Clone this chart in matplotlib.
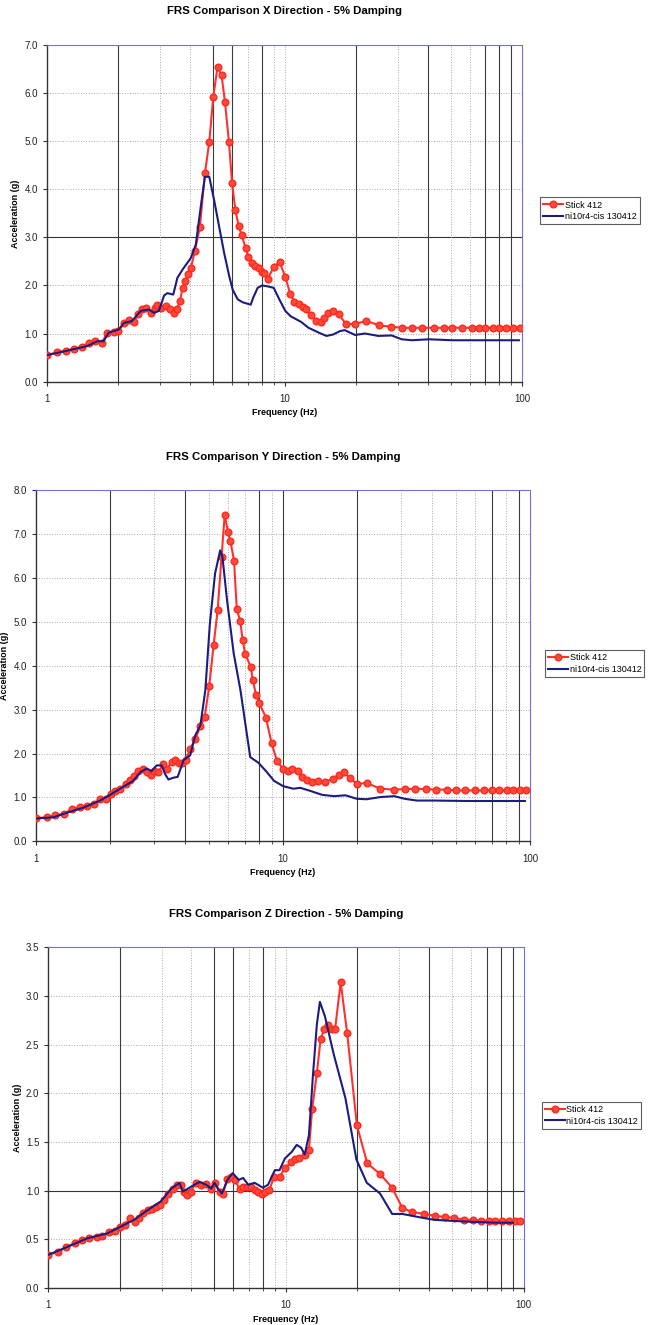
import numpy as np
import matplotlib.pyplot as plt
from matplotlib.ticker import FixedLocator, NullFormatter, FormatStrFormatter

plt.rcParams['font.family'] = ['Liberation Sans', 'DejaVu Sans']

# ---- X direction ----
x_stick_f = [1.0, 1.10, 1.20, 1.30, 1.41, 1.50, 1.60, 1.71, 1.79, 1.91, 2.0, 2.11, 2.21, 2.32,
             2.42, 2.52, 2.62, 2.73, 2.84, 2.91, 3.01, 3.18, 3.28, 3.41, 3.51, 3.63, 3.72, 3.82,
             3.93, 4.03, 4.19, 4.40, 4.62, 4.82, 5.01, 5.22, 5.43, 5.61, 5.83, 6.01, 6.21, 6.41,
             6.60, 6.85, 7.04, 7.29, 7.53, 7.77, 8.04, 8.22, 8.49, 9.0, 9.52, 10.07, 10.55, 11.0,
             11.5, 11.95, 12.3, 12.96, 13.6, 14.2, 14.7, 15.2, 16.0, 16.9, 18.1, 19.8, 22.1, 25.0,
             28.1, 31.1, 34.3, 38.0, 42.4, 46.7, 50.6, 55.7, 61.5, 65.6, 70.0, 75.1, 80.2, 85.5,
             91.2, 97.4]
x_stick_a = [0.55, 0.61, 0.64, 0.68, 0.73, 0.81, 0.84, 0.81, 1.02, 1.04, 1.05, 1.21, 1.28, 1.25,
             1.40, 1.50, 1.53, 1.43, 1.53, 1.60, 1.53, 1.57, 1.50, 1.42, 1.50, 1.67, 1.95, 2.09,
             2.23, 2.36, 2.71, 3.21, 4.33, 4.99, 5.92, 6.54, 6.37, 5.82, 4.99, 4.14, 3.56, 3.23,
             3.05, 2.78, 2.59, 2.47, 2.40, 2.36, 2.29, 2.26, 2.14, 2.38, 2.49, 2.18, 1.83, 1.66,
             1.62, 1.55, 1.50, 1.38, 1.26, 1.24, 1.33, 1.42, 1.47, 1.40, 1.20, 1.20, 1.26, 1.17,
             1.14, 1.12, 1.12, 1.12, 1.12, 1.12, 1.12, 1.12, 1.12, 1.12, 1.12, 1.12, 1.12, 1.12,
             1.12, 1.12]
x_cis_f = [1.0, 1.21, 1.48, 1.63, 1.73, 1.82, 2.0, 2.11, 2.28, 2.48, 2.69, 2.82, 2.96, 3.11, 3.21,
           3.4, 3.54, 3.72, 4.03, 4.23, 4.45, 4.62, 4.82, 5.05, 5.3, 5.57, 5.85, 6.05, 6.35, 6.66,
           7.2, 7.37, 7.7, 8.05, 8.5, 9.0, 9.5, 10.07, 10.6, 11.75, 12.6, 13.9, 15.0, 16.0, 17.1,
           17.9, 19.8, 21.8, 24.8, 28.2, 31.1, 34.3, 40.5, 50.6, 63.5, 82.7, 96.8]
x_cis_a = [0.55, 0.64, 0.74, 0.84, 0.84, 1.02, 1.08, 1.22, 1.26, 1.47, 1.50, 1.43, 1.47, 1.79, 1.84,
           1.81, 2.16, 2.33, 2.57, 2.85, 3.68, 4.26, 4.26, 3.78, 3.23, 2.67, 2.19, 1.91, 1.71, 1.65,
           1.60, 1.74, 1.95, 2.00, 1.98, 1.95, 1.71, 1.47, 1.36, 1.24, 1.12, 1.02, 0.95, 0.98, 1.05,
           1.07, 0.97, 1.00, 0.95, 0.96, 0.88, 0.86, 0.88, 0.86, 0.86, 0.86, 0.86]

# ---- Y direction ----
y_stick_f = [1.0, 1.105, 1.20, 1.30, 1.40, 1.51, 1.61, 1.72, 1.82, 1.92, 2.01, 2.10, 2.20, 2.31,
             2.40, 2.50, 2.60, 2.71, 2.81, 2.92, 3.01, 3.13, 3.28, 3.40, 3.55, 3.66, 3.79, 3.92,
             4.04, 4.21, 4.42, 4.63, 4.82, 5.03, 5.24, 5.44, 5.64, 5.81, 5.99, 6.13, 6.34, 6.50,
             6.72, 6.87, 7.03, 7.41, 7.55, 7.79, 8.02, 8.53, 9.0, 9.46, 10.0, 10.45, 10.9, 11.5,
             11.9, 12.5, 13.1, 13.9, 14.8, 15.9, 16.9, 17.7, 18.6, 19.9, 21.8, 24.8, 28.1, 31.1,
             34.2, 37.9, 41.6, 45.9, 50.0, 54.7, 60.0, 64.8, 70.0, 75.2, 80.4, 85.4, 90.9, 96.2]
y_stick_a = [0.53, 0.55, 0.59, 0.63, 0.74, 0.78, 0.80, 0.86, 0.97, 0.96, 1.09, 1.14, 1.20, 1.31,
             1.39, 1.48, 1.60, 1.66, 1.58, 1.52, 1.60, 1.58, 1.76, 1.66, 1.81, 1.86, 1.79, 1.79,
             1.85, 2.11, 2.33, 2.62, 2.83, 3.54, 4.47, 5.27, 6.47, 7.43, 7.05, 6.84, 6.39, 5.30,
             5.01, 4.58, 4.28, 3.97, 3.67, 3.33, 3.15, 2.82, 2.23, 1.83, 1.66, 1.60, 1.64, 1.60,
             1.47, 1.39, 1.35, 1.37, 1.35, 1.43, 1.52, 1.57, 1.45, 1.31, 1.33, 1.20, 1.18, 1.19,
             1.20, 1.19, 1.18, 1.18, 1.16, 1.16, 1.16, 1.16, 1.16, 1.16, 1.16, 1.16, 1.16, 1.16]
y_cis_f = [1.0, 1.18, 1.33, 1.56, 1.82, 2.01, 2.19, 2.48, 2.65, 2.81, 2.94, 3.08, 3.23, 3.33, 3.44,
           3.60, 3.75, 3.96, 4.21, 4.42, 4.63, 4.85, 5.06, 5.31, 5.57, 5.69, 5.94, 6.32, 6.73, 7.37,
           7.96, 8.6, 9.2, 10.0, 11.0, 11.76, 12.9, 14.4, 16.1, 17.9, 19.9, 21.8, 24.8, 28.2, 31.1,
           34.8, 41.0, 55.5, 75.0, 95.3]
y_cis_a = [0.52, 0.55, 0.65, 0.77, 0.93, 1.07, 1.20, 1.38, 1.58, 1.66, 1.60, 1.73, 1.73, 1.54, 1.41,
           1.45, 1.47, 1.85, 1.96, 2.42, 2.64, 3.44, 4.96, 6.10, 6.63, 6.48, 5.49, 4.28, 3.44, 1.92,
           1.79, 1.58, 1.38, 1.26, 1.20, 1.22, 1.15, 1.06, 1.03, 1.05, 0.97, 0.96, 1.01, 1.03, 0.97,
           0.93, 0.93, 0.92, 0.92, 0.92]

# ---- Z direction ----
z_stick_f = [1.0, 1.10, 1.19, 1.29, 1.39, 1.49, 1.60, 1.69, 1.80, 1.91, 2.01, 2.10, 2.21, 2.31,
             2.42, 2.51, 2.62, 2.73, 2.84, 2.95, 3.08, 3.20, 3.34, 3.49, 3.62, 3.74, 3.84, 3.97,
             4.19, 4.40, 4.62, 4.82, 5.01, 5.26, 5.44, 5.67, 5.89, 6.10, 6.38, 6.61, 6.86, 7.11,
             7.43, 7.66, 7.91, 8.19, 8.53, 8.9, 9.4, 9.9, 10.5, 10.9, 11.4, 12.0, 12.5, 12.9, 13.5,
             14.0, 14.5, 15.0, 15.6, 16.1, 17.0, 18.1, 19.9, 22.0, 24.9, 28.0, 30.9, 34.0, 38.2,
             42.4, 46.7, 51.1, 56.2, 61.3, 66.4, 71.4, 76.1, 81.2, 86.6, 91.8, 97.0]
z_stick_a = [0.34, 0.37, 0.42, 0.46, 0.49, 0.51, 0.52, 0.53, 0.57, 0.58, 0.63, 0.65, 0.72, 0.68,
             0.72, 0.77, 0.80, 0.81, 0.83, 0.85, 0.90, 0.96, 1.02, 1.06, 1.06, 0.99, 0.95, 0.99,
             1.08, 1.06, 1.07, 1.02, 1.08, 0.99, 0.97, 1.12, 1.14, 1.11, 1.02, 1.04, 1.04, 1.04,
             1.01, 0.99, 0.97, 0.99, 1.01, 1.14, 1.14, 1.23, 1.29, 1.33, 1.34, 1.37, 1.42, 1.84,
             2.21, 2.56, 2.66, 2.70, 2.66, 2.66, 3.14, 2.62, 1.67, 1.28, 1.17, 1.03, 0.82, 0.78,
             0.76, 0.74, 0.73, 0.72, 0.70, 0.70, 0.69, 0.69, 0.69, 0.69, 0.69, 0.69, 0.69]
z_cis_f = [1.0, 1.20, 1.46, 1.77, 2.02, 2.30, 2.62, 2.98, 3.29, 3.57, 3.68, 3.81, 3.99, 4.33, 4.62,
           4.85, 5.01, 5.18, 5.38, 5.67, 5.97, 6.33, 6.61, 6.94, 7.38, 8.0, 8.41, 8.98, 9.4, 9.9,
           10.6, 11.1, 11.6, 12.0, 12.5, 13.0, 13.5, 13.9, 14.6, 15.9, 17.8, 19.8, 21.9, 24.9,
           28.0, 30.9, 35.8, 42.0, 49.2, 59.5, 76.9, 90.3]
z_cis_a = [0.34, 0.42, 0.51, 0.56, 0.63, 0.70, 0.80, 0.89, 1.02, 1.08, 0.99, 1.01, 1.04, 1.09, 1.06,
           1.02, 1.08, 1.02, 0.97, 1.11, 1.18, 1.11, 1.13, 1.06, 1.08, 1.03, 1.06, 1.21, 1.21, 1.33,
           1.40, 1.47, 1.44, 1.37, 1.57, 2.19, 2.71, 2.94, 2.79, 2.40, 1.95, 1.32, 1.08, 0.97,
           0.76, 0.76, 0.73, 0.70, 0.69, 0.68, 0.67, 0.67]

titles = ["FRS Comparison X Direction - 5% Damping",
          "FRS Comparison Y Direction - 5% Damping",
          "FRS Comparison Z Direction - 5% Damping"]
series_names = ["Stick 412", "ni10r4-cis 130412"]
y_tops = [7.0, 8.0, 3.5]
y_steps = [1.0, 1.0, 0.5]

# scan-darkened grid lines in the original
dark_x = [[2, 5, 6, 8, 20, 40, 70, 80, 90],
          [2, 4, 8, 10, 20, 70, 90],
          [2, 5, 6, 8, 20, 40, 70, 80, 90]]
dark_y = [[3.0], [], [1.0]]

# axes boxes [left, bottom, width, height]
boxes = [[0.072, 0.712, 0.729, 0.254],
         [0.055, 0.365, 0.758, 0.265],
         [0.074, 0.028, 0.729, 0.257]]
legend_x = [1.034, 1.026, 1.034]

minor_x = [m * d for d in (1, 10) for m in range(2, 10)]
grid_x = sorted(minor_x + [10])

fig = plt.figure(figsize=(6.52, 13.25), dpi=100)

panels = [(x_stick_f, x_stick_a, x_cis_f, x_cis_a),
          (y_stick_f, y_stick_a, y_cis_f, y_cis_a),
          (z_stick_f, z_stick_a, z_cis_f, z_cis_a)]

for i, (sf, sa, cf, ca) in enumerate(panels):
    ax = fig.add_axes(boxes[i])
    ax.set_xscale('log')
    ax.set_xlim(1, 100)
    ax.set_ylim(0, y_tops[i])

    yt = np.arange(0, y_tops[i] + 0.01, y_steps[i])
    for v in yt[1:-1]:
        if v in dark_y[i]:
            ax.axhline(v, color='#333333', lw=0.8, zorder=1)
        else:
            ax.axhline(v, color='#aaaaaa', lw=0.7, ls=':', zorder=1)
    for v in grid_x:
        if v in dark_x[i]:
            ax.axvline(v, color='#3a3a3a', lw=0.8, zorder=1)
        else:
            ax.axvline(v, color='#aaaaaa', lw=0.7, ls=':', zorder=1)

    ax.plot(sf, sa, color='#ff3030', lw=1.5, marker='o', ms=4.8,
            mfc='#ff4a3a', mec='#ff2a20', label=series_names[0], zorder=3)
    ax.plot(cf, ca, color='#1c1c80', lw=1.5, label=series_names[1], zorder=4)

    ax.set_yticks(yt)
    ax.yaxis.set_major_formatter(FormatStrFormatter('%.1f'))
    ax.set_xticks([1, 10, 100])
    ax.set_xticklabels(['1', '10', '100'])
    ax.xaxis.set_minor_locator(FixedLocator(minor_x))
    ax.xaxis.set_minor_formatter(NullFormatter())
    ax.tick_params(axis='both', which='major', labelsize=7, length=3,
                   color='#333333', labelcolor='#222222')
    ax.tick_params(axis='x', which='minor', length=2, color='#333333')
    ax.tick_params(axis='x', pad=6)

    for s in ('left', 'bottom'):
        ax.spines[s].set_color('#333333')
        ax.spines[s].set_linewidth(1.0)
    for s in ('top', 'right'):
        ax.spines[s].set_color('#7070e0')
        ax.spines[s].set_linewidth(0.8)

    ax.set_title(titles[i], fontsize=8.2, fontweight='bold', pad=22)
    ax.set_xlabel('Frequency (Hz)', fontsize=6.5, fontweight='bold', labelpad=3)
    ax.set_ylabel('Acceleration (g)', fontsize=6.5, fontweight='bold', labelpad=3)

    leg = ax.legend(loc='center left', bbox_to_anchor=(legend_x[i], 0.507), fontsize=6.5,
                    frameon=True, fancybox=False, handlelength=2.2, borderpad=0.35,
                    labelspacing=0.3, handletextpad=0.2, borderaxespad=0.2)
    leg.get_frame().set_edgecolor('#333333')
    leg.get_frame().set_linewidth(0.8)

plt.savefig("out.png", dpi=100)
